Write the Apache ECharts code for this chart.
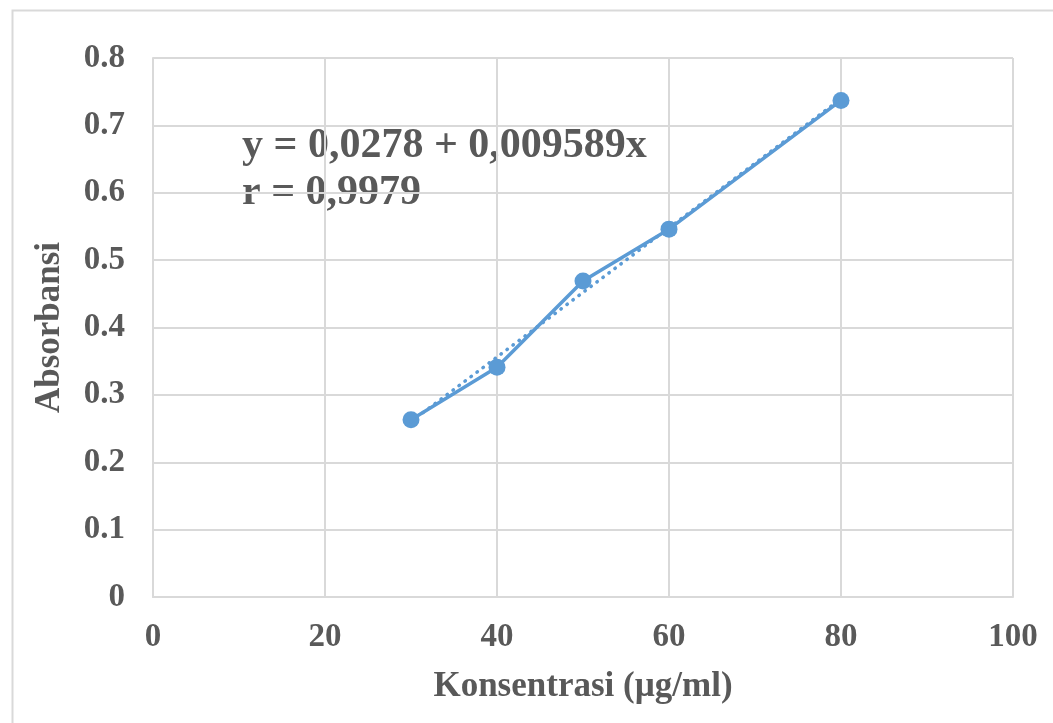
<!DOCTYPE html>
<html>
<head>
<meta charset="utf-8">
<script src="https://cdn.jsdelivr.net/npm/echarts@6/dist/echarts.min.js"></script>
<style>
html,body{margin:0;padding:0;background:#fff;}
#chart{width:1053px;height:723px;}
</style>
</head>
<body>
<div id="chart"></div>
<script>
// Data
const concentrations = [30, 40, 50, 60, 80];          // µg/ml
const absorbances   = [0.263, 0.341, 0.469, 0.546, 0.737];
const xTitle = 'Konsentrasi (µg/ml)';
const yTitle = 'Absorbansi';
const equationLines = ['y = 0,0278 + 0,009589x', 'r = 0,9979'];

// Least-squares trendline over the data range (as the spreadsheet trendline does)
function linearFit(xs, ys) {
  const n = xs.length;
  const mx = xs.reduce((a, b) => a + b, 0) / n;
  const my = ys.reduce((a, b) => a + b, 0) / n;
  let sxy = 0, sxx = 0;
  for (let i = 0; i < n; i++) { sxy += (xs[i] - mx) * (ys[i] - my); sxx += (xs[i] - mx) ** 2; }
  const b = sxy / sxx;
  return { a: my - b * mx, b };
}
const fit = linearFit(concentrations, absorbances);
const xMin = Math.min(...concentrations), xMax = Math.max(...concentrations);
const trendData = [[xMin, fit.a + fit.b * xMin], [xMax, fit.a + fit.b * xMax]];

const FONT = "'Liberation Serif', 'Times New Roman', serif";
const TXT = '#595959';
const BLUE = '#5B9BD5';
const GRIDC = '#d9d9d9';

const chart = echarts.init(document.getElementById('chart'));
chart.setOption({
  backgroundColor: '#fff',
  animation: false,
  grid: { left: 153, right: 40, top: 58, bottom: 126 },
  xAxis: {
    type: 'value', min: 0, max: 100, interval: 20,
    name: xTitle, nameLocation: 'middle', nameGap: 72,
    nameTextStyle: { fontFamily: FONT, fontWeight: 'bold', fontSize: 35, color: TXT },
    axisLine: { show: true, lineStyle: { color: GRIDC, width: 2 } },
    axisTick: { show: false },
    axisLabel: { fontFamily: FONT, fontWeight: 'bold', fontSize: 33, color: TXT, margin: 24 },
    splitLine: { show: true, lineStyle: { color: GRIDC, width: 2 } }
  },
  yAxis: {
    type: 'value', min: 0, max: 0.8, interval: 0.1,
    name: yTitle, nameLocation: 'middle', nameGap: 86,
    nameTextStyle: { fontFamily: FONT, fontWeight: 'bold', fontSize: 35, color: TXT },
    axisLine: { show: true, lineStyle: { color: GRIDC, width: 2 } },
    axisTick: { show: false },
    axisLabel: { fontFamily: FONT, fontWeight: 'bold', fontSize: 33, color: TXT, margin: 28,
      formatter: v => (Math.round(v * 10) / 10).toString() },
    splitLine: { show: true, lineStyle: { color: GRIDC, width: 2 } }
  },
  series: [
    {
      type: 'line', name: 'trend', data: trendData,
      symbol: 'none', silent: true,
      lineStyle: { color: BLUE, width: 3.5, type: [0.5, 7], cap: 'round' },
      z: 3
    },
    {
      type: 'line', name: 'Absorbansi',
      data: concentrations.map((x, i) => [x, absorbances[i]]),
      symbol: 'circle', symbolSize: 17,
      itemStyle: { color: BLUE },
      lineStyle: { color: BLUE, width: 3.5 },
      z: 2
    }
  ],
  graphic: [
    { type: 'rect', left: 10, top: 8, shape: { width: 1100, height: 800 },
      style: { fill: 'none', stroke: GRIDC, lineWidth: 2 }, silent: true, z: -10 },
    { type: 'text', left: 242, top: 125, z: -5,
      style: { text: equationLines[0], font: 'bold 42px ' + FONT, fill: TXT } },
    { type: 'text', left: 242, top: 172, z: -5,
      style: { text: equationLines[1], font: 'bold 42px ' + FONT, fill: TXT } }
  ]
});
</script>
</body>
</html>
